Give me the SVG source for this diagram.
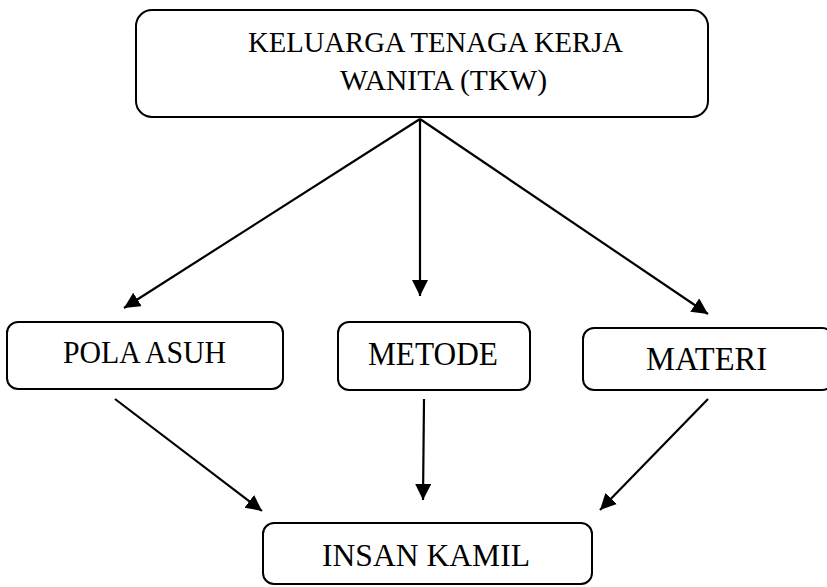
<svg xmlns="http://www.w3.org/2000/svg" width="827" height="587" viewBox="0 0 827 587">
<style>
.box{fill:#fff;stroke:#000;stroke-width:2}
.t{font-family:"Liberation Serif","Times New Roman",serif;fill:#000;text-anchor:middle}
.c{stroke:#000;stroke-width:2.2;fill:none;marker-end:url(#ah)}
</style>
<defs>
<marker id="ah" markerWidth="17" markerHeight="17" refX="16" refY="8" orient="auto" markerUnits="userSpaceOnUse">
<path d="M0,0 L16,8 L0,16 Z" fill="#000"/>
</marker>
</defs>
<rect width="827" height="587" fill="#fff"/>
<g id="connectors">
<line class="c" x1="420" y1="119" x2="124" y2="308"/>
<line class="c" x1="420" y1="119" x2="420" y2="296"/>
<line class="c" x1="420" y1="119" x2="708" y2="314"/>
<line class="c" x1="115" y1="399" x2="262" y2="511"/>
<line class="c" x1="424" y1="399" x2="423" y2="500"/>
<line class="c" x1="708" y1="399" x2="600" y2="510"/>
</g>
<g id="node-tkw">
<rect class="box" x="136" y="10" width="572" height="107" rx="16"/>
<text class="t" x="435.5" y="52" font-size="30" textLength="375" lengthAdjust="spacingAndGlyphs">KELUARGA TENAGA KERJA</text>
<text class="t" x="443.5" y="90" font-size="30" textLength="207" lengthAdjust="spacingAndGlyphs">WANITA (TKW)</text>
</g>
<g id="node-pola">
<rect class="box" x="7" y="322" width="276" height="67" rx="11"/>
<text class="t" x="144.5" y="363" font-size="32" textLength="163" lengthAdjust="spacingAndGlyphs">POLA ASUH</text>
</g>
<g id="node-metode">
<rect class="box" x="338" y="322" width="192" height="68" rx="11"/>
<text class="t" x="433" y="365" font-size="33" textLength="130" lengthAdjust="spacingAndGlyphs">METODE</text>
</g>
<g id="node-materi">
<rect class="box" x="583" y="328" width="250" height="62" rx="11"/>
<text class="t" x="706.5" y="370" font-size="33" textLength="121" lengthAdjust="spacingAndGlyphs">MATERI</text>
</g>
<g id="node-insan">
<rect class="box" x="263" y="523" width="329" height="61" rx="11"/>
<text class="t" x="426" y="566" font-size="32" textLength="208" lengthAdjust="spacingAndGlyphs">INSAN KAMIL</text>
</g>
</svg>
